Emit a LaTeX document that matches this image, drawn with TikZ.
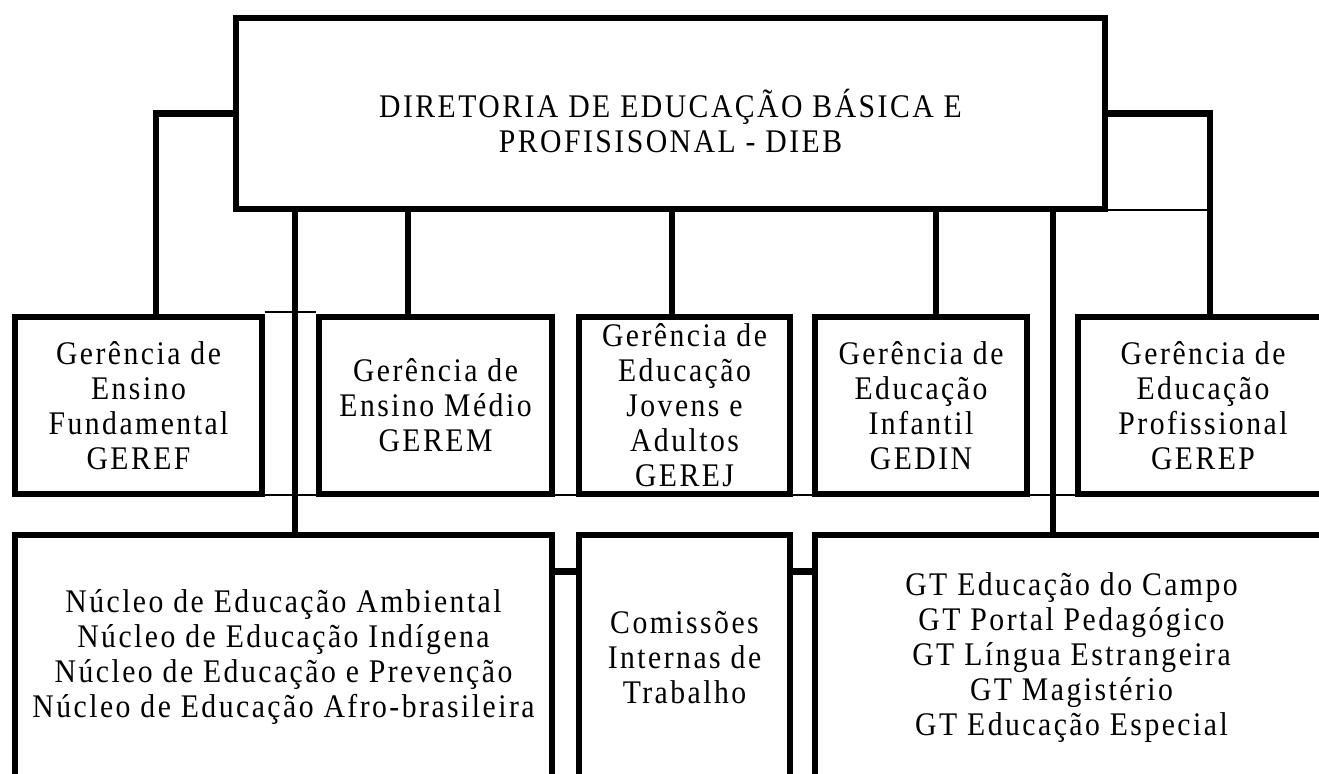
\documentclass[tikz,border=0pt]{standalone}
\usepackage{fontspec}
\setmainfont{Liberation Serif}[LetterSpace=7.5,FakeStretch=0.9]
\usepackage{tikz}
\usetikzlibrary{positioning}
\newcommand{\orgfont}{\fontsize{16.5pt}{17.5pt}\selectfont}
\tikzset{main box/.style={rectangle,draw,line width=3.25pt,align=center,inner sep=0pt,font=\orgfont},
         link/.style={line width=3.25pt},
         rule line/.style={line width=0.8pt},
            }

\begin{document}
\begin{tikzpicture}[x=0.5pt,y=-0.5pt]

    \useasboundingbox (0,0) rectangle (1319,774);
    \clip (0,0) rectangle (1319,774);

    \node[main box,minimum width=434.5pt,minimum height=95.5pt] (dieb) at (670.5,113.5)
        {\rule{0pt}{22pt}DIRETORIA DE EDUCAÇÃO BÁSICA E\\PROFISISONAL - DIEB};

    \node[main box,minimum width=123.5pt,minimum height=88.5pt] (geref) at (138.5,405.5)
        {Gerência de\\Ensino\\Fundamental\\GEREF};
    \node[main box,minimum width=116.5pt,minimum height=88.5pt] (gerem) at (435.5,405.5)
        {Gerência de\\Ensino Médio\\GEREM};
    \node[main box,minimum width=105.5pt,minimum height=88.5pt] (gerej) at (684.5,405.5)
        {Gerência de\\Educação\\Jovens e\\Adultos\\GEREJ};
    \node[main box,minimum width=106pt,minimum height=88.5pt] (gedin) at (921,405.5)
        {Gerência de\\Educação\\Infantil\\GEDIN};
    \node[main box,minimum width=125pt,minimum height=88.5pt] (gerep) at (1203,405.5)
        {Gerência de\\Educação\\Profissional\\GEREP};

    \node[main box,minimum width=268.5pt,minimum height=122.5pt] (nucleo) at (283.5,657.5)
        {Núcleo de Educação Ambiental\\Núcleo de Educação Indígena\\Núcleo de Educação e Prevenção\\Núcleo de Educação Afro-brasileira};
    \node[main box,minimum width=105.5pt,minimum height=122.5pt] (cit) at (684.5,657.5)
        {Comissões\\Internas de\\Trabalho};
    \node[main box,minimum width=256.5pt,minimum height=122.5pt] (gt) at (1071.5,657.5)
        {GT Educação do Campo\\GT Portal Pedagógico\\GT Língua Estrangeira\\GT Magistério\\GT Educação Especial};

    \coordinate (ldrop) at ([xshift=8.75pt]geref.north);
    \coordinate (rdrop) at ([xshift=3.5pt]gerep.north);

    \draw[link] (dieb.west) -| (ldrop);
    \draw[link] (dieb.east) -| (rdrop);
    \foreach \bx/\dx in {nucleo/5.75pt,gerem/-13.75pt,gerej/-6.25pt,gedin/7.5pt,gt/-9.25pt}
        \draw[link] ([xshift=\dx]\bx.north |- dieb.south) -- ([xshift=\dx]\bx.north);
    \draw[link] ([yshift=-20pt]nucleo.north east) -- ([yshift=-20pt]cit.north west);
    \draw[link] ([yshift=-20pt]cit.north east) -- ([yshift=-20pt]gt.north west);

    \draw[rule line] ([yshift=1pt]dieb.south east) -- ([yshift=1pt]dieb.south east -| rdrop);
    \draw[rule line] ([yshift=1pt]geref.north east) -- ([yshift=1pt]gerem.north west);
    \foreach \a/\b in {geref/gerem,gerem/gerej,gerej/gedin,gedin/gerep}
        \draw[rule line] ([yshift=1pt]\a.south east) -- ([yshift=1pt]\b.south west);

\end{tikzpicture}
\end{document}
